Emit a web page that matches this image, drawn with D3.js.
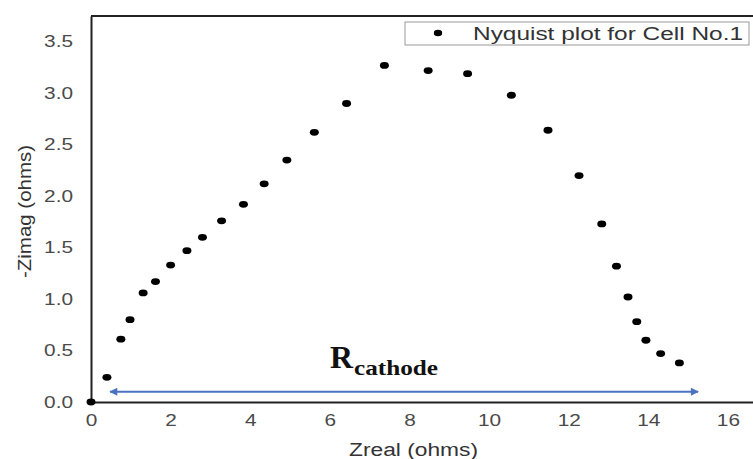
<!DOCTYPE html>
<html><head><meta charset="utf-8">
<script src="https://cdn.jsdelivr.net/npm/d3@7"></script>
<style>body{margin:0;background:#fff}svg{display:block}</style>
</head><body>
<svg id="c" width="753" height="459"></svg>
<script>
const zreal = [0, 0.40, 0.75, 0.98, 1.31, 1.62, 2.00, 2.41, 2.80, 3.28, 3.83, 4.35, 4.92, 5.61, 6.42, 7.37, 8.47, 9.46, 10.56, 11.48, 12.26, 12.83, 13.20, 13.49, 13.71, 13.94, 14.31, 14.78];
const zimag = [0, 0.24, 0.61, 0.80, 1.06, 1.17, 1.33, 1.47, 1.60, 1.76, 1.92, 2.12, 2.35, 2.62, 2.90, 3.27, 3.22, 3.19, 2.98, 2.64, 2.20, 1.73, 1.32, 1.02, 0.78, 0.60, 0.47, 0.38];
const xTicks = [0, 2, 4, 6, 8, 10, 12, 14, 16];
const yTicks = [0, 0.5, 1.0, 1.5, 2.0, 2.5, 3.0, 3.5];
const legendLabel = "Nyquist plot for Cell No.1";
const arrowSpan = [0.48, 15.25];
const arrowLevel = 0.10;

const svg = d3.select("#c");
const L = 91, R = 753, T = 16, B = 402;
const x = d3.scaleLinear().domain([0, 16.63]).range([L, R]);
const y = d3.scaleLinear().domain([0, 3.75]).range([B, T]);
const tickColor = "#4a4a4a";
const font = "Liberation Sans, Arial, sans-serif";
const sx = 1.3; // horizontal stretch seen in the reference text

// x axis
const xa = svg.append("g").attr("transform", `translate(0,${B})`)
  .call(d3.axisBottom(x).tickValues(xTicks).tickSize(0).tickPadding(13).tickFormat(d3.format("d")));
xa.select(".domain").attr("stroke", "#222").attr("stroke-width", 2);
xa.selectAll("text").attr("font-family", font).attr("font-size", 16).attr("fill", tickColor)
  .attr("transform", `scale(${sx},1)`);

// y axis
const ya = svg.append("g").attr("transform", `translate(${L},0)`)
  .call(d3.axisLeft(y).tickValues(yTicks).tickSize(0).tickFormat(d3.format(".1f")));
ya.select(".domain").attr("stroke", "#222").attr("stroke-width", 2);
ya.selectAll("text").attr("font-family", font).attr("font-size", 16).attr("fill", tickColor)
  .attr("x", -18 / sx).attr("transform", `scale(${sx},1)`);

// top border
svg.append("line").attr("x1", L).attr("x2", R).attr("y1", T).attr("y2", T)
  .attr("stroke", "#222").attr("stroke-width", 2);

// axis titles
svg.append("text").attr("x", 349).attr("y", 456)
  .attr("textLength", 129).attr("lengthAdjust", "spacingAndGlyphs")
  .attr("font-family", font).attr("font-size", 18).attr("fill", "#333").text("Zreal (ohms)");
svg.append("text").attr("transform", "translate(31,278) rotate(-90)")
  .attr("textLength", 133).attr("lengthAdjust", "spacingAndGlyphs")
  .attr("font-family", font).attr("font-size", 18).attr("fill", "#333").text("-Zimag (ohms)");

// arrow
const defs = svg.append("defs");
defs.append("marker").attr("id", "ah").attr("viewBox", "0 0 10 10").attr("refX", 9).attr("refY", 5)
  .attr("markerWidth", 5).attr("markerHeight", 4).attr("markerUnits", "strokeWidth")
  .attr("orient", "auto-start-reverse")
  .append("path").attr("d", "M0,0 L10,5 L0,10 Z").attr("fill", "#4a72c0");
svg.append("line").attr("x1", x(arrowSpan[0])).attr("x2", x(arrowSpan[1]))
  .attr("y1", y(arrowLevel)).attr("y2", y(arrowLevel))
  .attr("stroke", "#4a72c0").attr("stroke-width", 2)
  .attr("marker-start", "url(#ah)").attr("marker-end", "url(#ah)");

// R_cathode label
const serif = "Liberation Serif, Times New Roman, serif";
svg.append("text").attr("x", 330).attr("y", 368).attr("textLength", 23).attr("lengthAdjust", "spacingAndGlyphs")
  .attr("font-family", serif).attr("font-weight", "bold").attr("font-size", 32).attr("fill", "#111").text("R");
svg.append("text").attr("x", 354).attr("y", 375).attr("textLength", 84).attr("lengthAdjust", "spacingAndGlyphs")
  .attr("font-family", serif).attr("font-weight", "bold").attr("font-size", 21).attr("fill", "#111").text("cathode");

// points
svg.append("g").selectAll("ellipse").data(zreal.map((d, i) => [d, zimag[i]])).join("ellipse")
  .attr("cx", d => x(d[0])).attr("cy", d => y(d[1])).attr("rx", 4.5).attr("ry", 3.4).attr("fill", "#000");

// legend
svg.append("rect").attr("x", 405).attr("y", 22).attr("width", 344).attr("height", 23)
  .attr("fill", "#fff").attr("stroke", "#999").attr("stroke-width", 1);
svg.append("ellipse").attr("cx", 438).attr("cy", 33).attr("rx", 4.2).attr("ry", 3.2).attr("fill", "#000");
svg.append("text").attr("x", 473).attr("y", 39.5).attr("textLength", 270).attr("lengthAdjust", "spacingAndGlyphs")
  .attr("font-family", font).attr("font-size", 17.5).attr("fill", "#333").text(legendLabel);
</script>
</body></html>
